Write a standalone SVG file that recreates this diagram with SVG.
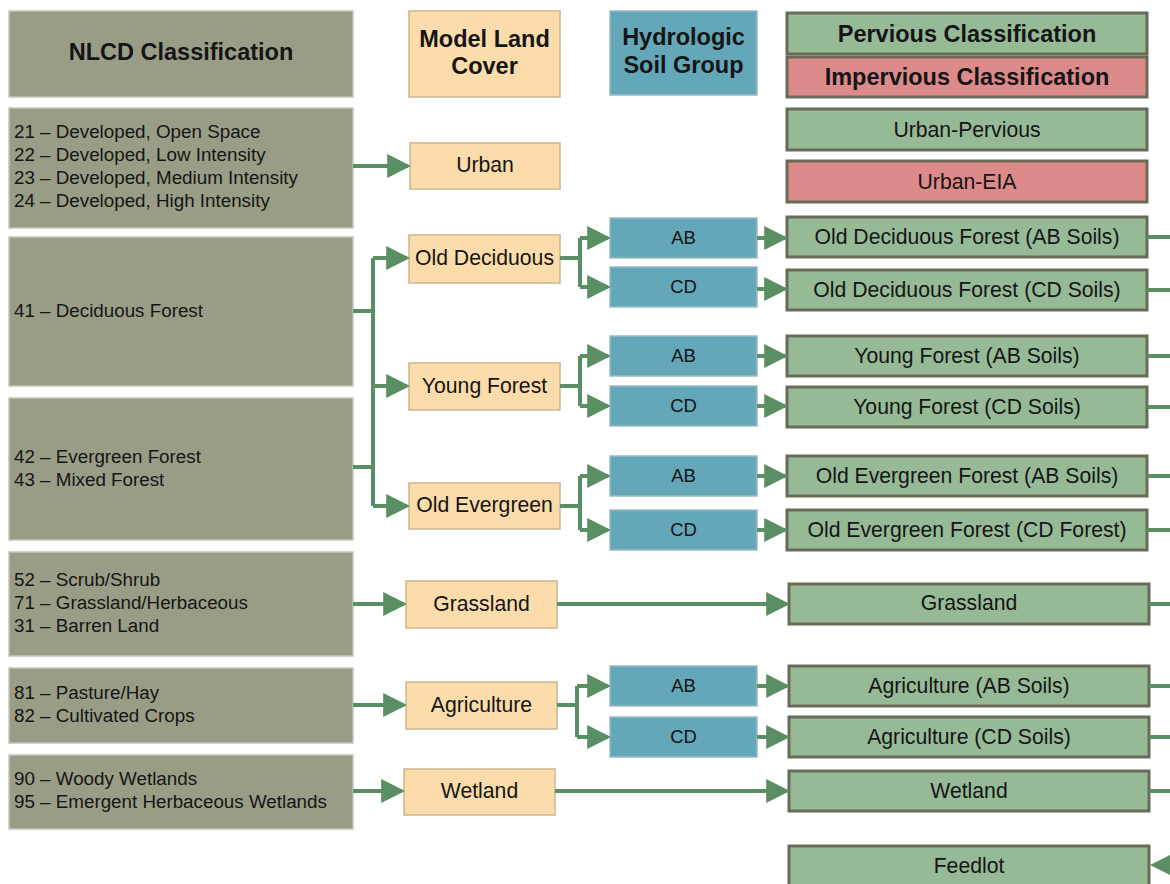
<svg xmlns="http://www.w3.org/2000/svg" width="1170" height="884" viewBox="0 0 1170 884">
<style>
.nl{fill:#9a9d85;stroke:#c4c6b8;stroke-width:1.5}
.ml{fill:#fbdcaa;stroke:#c9b790;stroke-width:1.5}
.hs{fill:#63a7b8;stroke:#9bbcc4;stroke-width:1.5}
.pv{fill:#96ba96;stroke:#6a6a58;stroke-width:3}
.ip{fill:#dd8a8a;stroke:#6a6a58;stroke-width:3}
text{font-family:"Liberation Sans",Arial,sans-serif;fill:#151515}
.hd{font-size:23.5px;font-weight:bold;text-anchor:middle}
.ls{font-size:18.8px}
.t20{font-size:21.2px;text-anchor:middle}
.t16{font-size:18.5px;text-anchor:middle}
.c{fill:none;stroke:#5a8f63;stroke-width:4}
</style>
<defs>
<marker id="ah" markerWidth="6" markerHeight="6" refX="5.2" refY="3" orient="auto" markerUnits="strokeWidth">
<path d="M0,0 L6,3 L0,6 Z" fill="#5a8f63"/>
</marker>
</defs>
<g id="nlcd-header"><rect class="nl" x="9" y="11" width="344" height="86"/><text class="hd" x="181" y="60">NLCD Classification</text></g>
<g id="nlcd-urban"><rect class="nl" x="9" y="108" width="344" height="120"/>
<text class="ls" x="14" y="138">21 – Developed, Open Space</text>
<text class="ls" x="14" y="161">22 – Developed, Low Intensity</text>
<text class="ls" x="14" y="184">23 – Developed, Medium Intensity</text>
<text class="ls" x="14" y="207">24 – Developed, High Intensity</text></g>
<g id="nlcd-deciduous"><rect class="nl" x="9" y="237" width="344" height="149"/><text class="ls" x="14" y="317">41 – Deciduous Forest</text></g>
<g id="nlcd-evergreen"><rect class="nl" x="9" y="398" width="344" height="142"/>
<text class="ls" x="14" y="463">42 – Evergreen Forest</text>
<text class="ls" x="14" y="486">43 – Mixed Forest</text></g>
<g id="nlcd-grass"><rect class="nl" x="9" y="552" width="344" height="104"/>
<text class="ls" x="14" y="586">52 – Scrub/Shrub</text>
<text class="ls" x="14" y="609">71 – Grassland/Herbaceous</text>
<text class="ls" x="14" y="632">31 – Barren Land</text></g>
<g id="nlcd-ag"><rect class="nl" x="9" y="668" width="344" height="75"/>
<text class="ls" x="14" y="699">81 – Pasture/Hay</text>
<text class="ls" x="14" y="722">82 – Cultivated Crops</text></g>
<g id="nlcd-wet"><rect class="nl" x="9" y="755" width="344" height="74"/>
<text class="ls" x="14" y="785">90 – Woody Wetlands</text>
<text class="ls" x="14" y="808">95 – Emergent Herbaceous Wetlands</text></g>

<g id="model-header"><rect class="ml" x="409" y="11" width="151" height="86"/><text class="hd" x="484.5" y="47">Model Land</text><text class="hd" x="484.5" y="74">Cover</text></g>
<g id="m-urban"><rect class="ml" x="410" y="143" width="150" height="46"/><text class="t20" x="485" y="172">Urban</text></g>
<g id="m-olddec"><rect class="ml" x="409" y="235" width="151" height="48"/><text class="t20" x="484.5" y="265">Old Deciduous</text></g>
<g id="m-young"><rect class="ml" x="409" y="363" width="151" height="47"/><text class="t20" x="484.5" y="393">Young Forest</text></g>
<g id="m-oldever"><rect class="ml" x="409" y="483" width="151" height="46"/><text class="t20" x="484.5" y="512">Old Evergreen</text></g>
<g id="m-grass"><rect class="ml" x="406" y="581" width="151" height="47"/><text class="t20" x="481.5" y="611">Grassland</text></g>
<g id="m-ag"><rect class="ml" x="406" y="682" width="151" height="47"/><text class="t20" x="481.5" y="712">Agriculture</text></g>
<g id="m-wet"><rect class="ml" x="404" y="769" width="151" height="46"/><text class="t20" x="479.5" y="798">Wetland</text></g>

<g id="hsg-header"><rect class="hs" x="610" y="11" width="147" height="84"/><text class="hd" x="683.5" y="45">Hydrologic</text><text class="hd" x="683.5" y="73">Soil Group</text></g>
<g id="s-ab1"><rect class="hs" x="610" y="218" width="147" height="40"/><text class="t16" x="683.5" y="244">AB</text></g>
<g id="s-cd1"><rect class="hs" x="610" y="267" width="147" height="40"/><text class="t16" x="683.5" y="293">CD</text></g>
<g id="s-ab2"><rect class="hs" x="610" y="336" width="147" height="40"/><text class="t16" x="683.5" y="362">AB</text></g>
<g id="s-cd2"><rect class="hs" x="610" y="386" width="147" height="40"/><text class="t16" x="683.5" y="412">CD</text></g>
<g id="s-ab3"><rect class="hs" x="610" y="456" width="147" height="40"/><text class="t16" x="683.5" y="482">AB</text></g>
<g id="s-cd3"><rect class="hs" x="610" y="510" width="147" height="40"/><text class="t16" x="683.5" y="536">CD</text></g>
<g id="s-ab4"><rect class="hs" x="610" y="666" width="147" height="40"/><text class="t16" x="683.5" y="692">AB</text></g>
<g id="s-cd4"><rect class="hs" x="610" y="717" width="147" height="40"/><text class="t16" x="683.5" y="743">CD</text></g>

<g id="pv-header"><rect class="pv" x="787" y="13" width="360" height="41"/><text class="hd" x="967" y="42">Pervious Classification</text></g>
<g id="ip-header"><rect class="ip" x="787" y="57" width="360" height="40"/><text class="hd" x="967" y="85">Impervious Classification</text></g>
<g id="r-urbanpv"><rect class="pv" x="787" y="109" width="360" height="41"/><text class="t20" x="967" y="137">Urban-Pervious</text></g>
<g id="r-urbaneia"><rect class="ip" x="787" y="161" width="360" height="41"/><text class="t20" x="967" y="189">Urban-EIA</text></g>
<g id="r-odab"><rect class="pv" x="787" y="217" width="360" height="40"/><text class="t20" x="967" y="244">Old Deciduous Forest (AB Soils)</text></g>
<g id="r-odcd"><rect class="pv" x="787" y="270" width="360" height="40"/><text class="t20" x="967" y="297">Old Deciduous Forest (CD Soils)</text></g>
<g id="r-yfab"><rect class="pv" x="787" y="336" width="360" height="40"/><text class="t20" x="967" y="363">Young Forest (AB Soils)</text></g>
<g id="r-yfcd"><rect class="pv" x="787" y="387" width="360" height="40"/><text class="t20" x="967" y="414">Young Forest (CD Soils)</text></g>
<g id="r-oeab"><rect class="pv" x="787" y="456" width="360" height="40"/><text class="t20" x="967" y="483">Old Evergreen Forest (AB Soils)</text></g>
<g id="r-oecd"><rect class="pv" x="787" y="510" width="360" height="40"/><text class="t20" x="967" y="537">Old Evergreen Forest (CD Forest)</text></g>
<g id="r-grass"><rect class="pv" x="789" y="584" width="360" height="40"/><text class="t20" x="969" y="610">Grassland</text></g>
<g id="r-agab"><rect class="pv" x="789" y="666" width="360" height="40"/><text class="t20" x="969" y="693">Agriculture (AB Soils)</text></g>
<g id="r-agcd"><rect class="pv" x="789" y="717" width="360" height="40"/><text class="t20" x="969" y="744">Agriculture (CD Soils)</text></g>
<g id="r-wet"><rect class="pv" x="789" y="771" width="360" height="40"/><text class="t20" x="969" y="798">Wetland</text></g>
<g id="r-feed"><rect class="pv" x="789" y="846" width="360" height="40"/><text class="t20" x="969" y="873">Feedlot</text></g>

<g id="connectors">
<path class="c" d="M353,166 H408" marker-end="url(#ah)"/>
<path class="c" d="M353,311 H373 M353,467 H373 M373,258 V506"/>
<path class="c" d="M373,258 H407" marker-end="url(#ah)"/>
<path class="c" d="M373,386 H407" marker-end="url(#ah)"/>
<path class="c" d="M373,506 H407" marker-end="url(#ah)"/>
<path class="c" d="M560,258 H580 M580,238 V287"/>
<path class="c" d="M580,238 H608" marker-end="url(#ah)"/>
<path class="c" d="M580,287 H608" marker-end="url(#ah)"/>
<path class="c" d="M560,386 H580 M580,356 V406"/>
<path class="c" d="M580,356 H608" marker-end="url(#ah)"/>
<path class="c" d="M580,406 H608" marker-end="url(#ah)"/>
<path class="c" d="M560,506 H580 M580,476 V530"/>
<path class="c" d="M580,476 H608" marker-end="url(#ah)"/>
<path class="c" d="M580,530 H608" marker-end="url(#ah)"/>
<path class="c" d="M557,705 H577 M577,686 V737"/>
<path class="c" d="M577,686 H608" marker-end="url(#ah)"/>
<path class="c" d="M577,737 H608" marker-end="url(#ah)"/>
<path class="c" d="M757,238 H785" marker-end="url(#ah)"/>
<path class="c" d="M757,289 H785" marker-end="url(#ah)"/>
<path class="c" d="M757,356 H785" marker-end="url(#ah)"/>
<path class="c" d="M757,406 H785" marker-end="url(#ah)"/>
<path class="c" d="M757,476 H785" marker-end="url(#ah)"/>
<path class="c" d="M757,530 H785" marker-end="url(#ah)"/>
<path class="c" d="M757,686 H787" marker-end="url(#ah)"/>
<path class="c" d="M757,737 H787" marker-end="url(#ah)"/>
<path class="c" d="M353,604 H404" marker-end="url(#ah)"/>
<path class="c" d="M557,604 H787" marker-end="url(#ah)"/>
<path class="c" d="M353,705 H404" marker-end="url(#ah)"/>
<path class="c" d="M353,791 H402" marker-end="url(#ah)"/>
<path class="c" d="M555,791 H787" marker-end="url(#ah)"/>
<path class="c" d="M1147,237 H1170 M1147,290 H1170 M1147,356 H1170 M1147,407 H1170 M1147,476 H1170 M1147,530 H1170 M1149,604 H1170 M1149,686 H1170 M1149,737 H1170 M1149,791 H1170"/>
<path d="M1150,865 L1170,855 L1170,875 Z" fill="#5a8f63"/>
</g>
</svg>
